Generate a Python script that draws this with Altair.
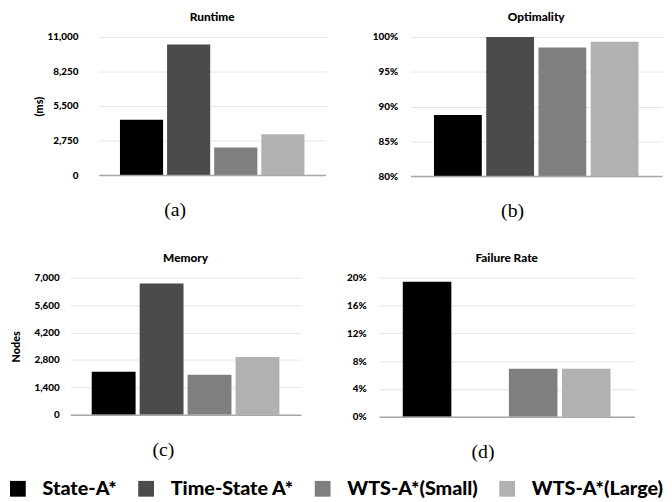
import altair as alt
import pandas as pd

methods = ["State-A*", "Time-State A*", "WTS-A*(Small)", "WTS-A*(Large)"]
colors = ["#000000", "#4b4b4b", "#7f7f7f", "#b1b1b1"]

runtime_ms = [4400, 10400, 2200, 3250]
optimality = [0.888, 1.0, 0.985, 0.993]
memory_nodes = [2200, 6700, 2050, 2950]
failure_rate = [0.194, 0.0, 0.069, 0.069]

runtime_ticks = [0, 2750, 5500, 8250, 11000]
optimality_ticks = [0.80, 0.85, 0.90, 0.95, 1.00]
memory_ticks = [0, 1400, 2800, 4200, 5600, 7000]
failure_ticks = [0, 0.04, 0.08, 0.12, 0.16, 0.20]

FONT = "Lato"
SERIF = "Liberation Serif"

legend = alt.Legend(
    title=None, orient="none", legendX=-2, legendY=448, direction="horizontal",
    columns=4, symbolType="square", symbolSize=256, symbolStrokeWidth=0,
    symbolOpacity=1, labelFont=FONT, labelFontSize=20, labelFontWeight=900,
    labelColor="black", labelOffset=15, columnPadding=19, labelLimit=300,
)


def panel(values, title, caption, caption_x, ticks, fmt, domain, width, height,
          extent, label_pad, y_title=None, y_title_pad=8, base=None):
    df = pd.DataFrame({"method": methods, "value": values})
    yaxis = dict(values=ticks, format=fmt, labelFont=FONT, labelFontSize=10,
                 labelFontWeight=900, labelColor="black", labelPadding=label_pad,
                 ticks=False, domain=False, grid=True, gridColor="#e6e6e6",
                 gridWidth=1, minExtent=extent, maxExtent=extent)
    if y_title is not None:
        yaxis.update(title=y_title, titleFont=FONT, titleFontSize=11,
                     titleFontWeight=900, titleColor="black",
                     titlePadding=y_title_pad)
    else:
        yaxis.update(title=None)
    enc = dict(
        x=alt.X("method:N", sort=methods,
                scale=alt.Scale(paddingInner=0.085, paddingOuter=0.45),
                axis=alt.Axis(labels=False, ticks=False, domain=True,
                              domainColor="#a8a8a8", domainWidth=1.5, grid=False,
                              title=caption, titleFont=SERIF, titleFontSize=20,
                              titleFontWeight="normal", titleColor="black",
                              titlePadding=25, titleX=caption_x,
                              minExtent=0, maxExtent=0, zindex=1)),
        y=alt.Y("value:Q", scale=alt.Scale(domain=domain, zero=False, nice=False),
                axis=alt.Axis(**yaxis)),
        color=alt.Color("method:N", sort=methods,
                        scale=alt.Scale(domain=methods, range=colors),
                        legend=legend),
    )
    if base is not None:
        enc["y2"] = alt.datum(base)
    return alt.Chart(df).mark_bar().encode(**enc).properties(
        width=width, height=height,
        title=alt.TitleParams(text=title, font=FONT, fontSize=12, fontWeight=900,
                              color="black", offset=8, anchor="middle"),
    )


a = panel(runtime_ms, "Runtime", "(a)", 77, runtime_ticks, ",.0f", [0, 11000],
          230, 140, 47, 21, y_title="(ms)", y_title_pad=8)
b = panel(optimality, "Optimality", "(b)", 103, optimality_ticks, ".0%",
          [0.8, 1.0], 255, 141, 37, 13, base=0.8)
c = panel(memory_nodes, "Memory", "(c)", 94, memory_ticks, ",.0f", [0, 7000],
          234, 139, 41, 11, y_title="Nodes", y_title_pad=8)
d = panel(failure_rate, "Failure Rate", "(d)", 105, failure_ticks, ".0%",
          [0, 0.2], 259, 141, 35, 13)


def spacer(w):
    return alt.Chart(pd.DataFrame({"s": [0]})).mark_point(opacity=0, size=1).encode(
        x=alt.value(0), y=alt.value(0)
    ).properties(width=w, height=1)


row1 = alt.hconcat(spacer(24), alt.hconcat(a, b, spacing=47), spacing=0)
row2 = alt.hconcat(spacer(1), alt.hconcat(c, d, spacing=44), spacing=0)

chart = alt.vconcat(row1, row2, spacing=32).properties(
    padding=0, background="white"
).configure_view(stroke=None)

chart.save("out.html", embed_options={"renderer": "svg", "actions": False})
